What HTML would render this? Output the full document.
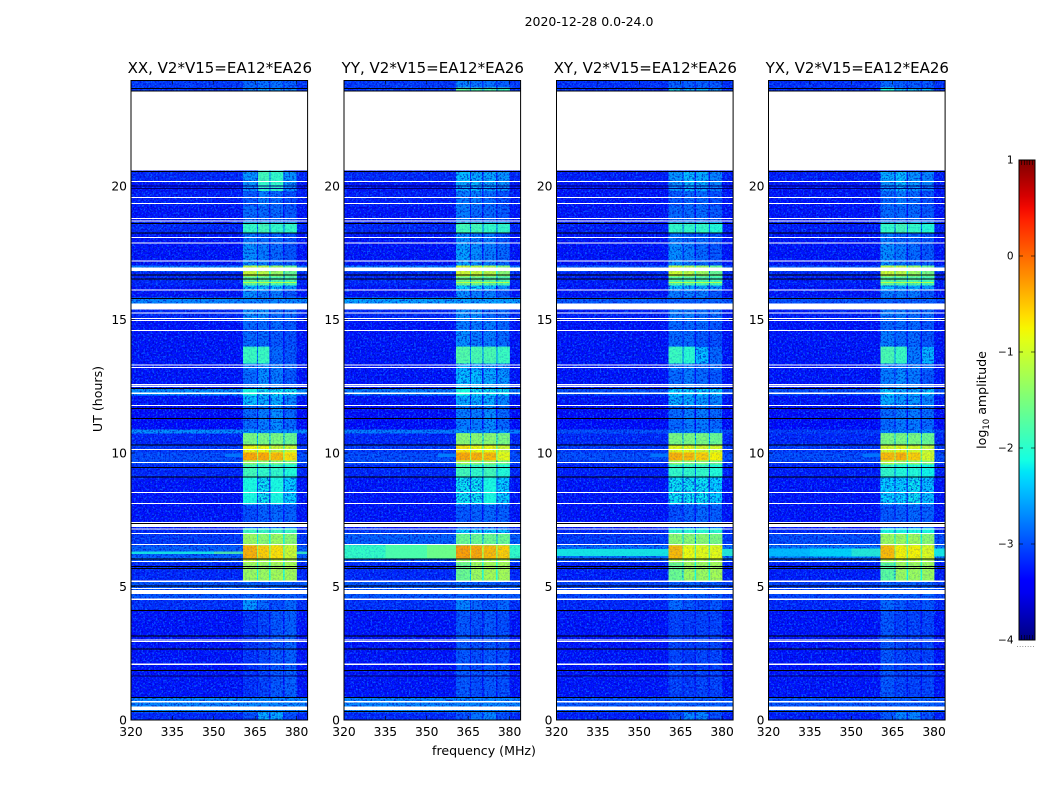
<!DOCTYPE html>
<html>
<head>
<meta charset="utf-8">
<title>2020-12-28 spectrogram</title>
<style>
html,body{margin:0;padding:0;background:#fff;}
svg{display:block;}
text{font-family:"DejaVu Sans","Liberation Sans",sans-serif;fill:#000;}
</style>
</head>
<body>
<svg id="fig" xmlns="http://www.w3.org/2000/svg" width="1050" height="800" viewBox="0 0 1050 800">
<defs>
<filter id="speckLight" x="0" y="0" width="100%" height="100%" color-interpolation-filters="sRGB">
<feTurbulence type="fractalNoise" baseFrequency="0.55" numOctaves="2" seed="4"/>
<feColorMatrix type="matrix" values="0 0 0 0 0.05  0 0 0 0 0.5  0 0 0 0 1  6 0 0 0 -3"/>
</filter>
<filter id="speckDark" x="0" y="0" width="100%" height="100%" color-interpolation-filters="sRGB">
<feTurbulence type="fractalNoise" baseFrequency="0.55" numOctaves="2" seed="11"/>
<feColorMatrix type="matrix" values="0 0 0 0 0  0 0 0 0 0  0 0 0 0 0.72  6 0 0 0 -3"/>
</filter>
<linearGradient id="jetGradient" x1="0" y1="1" x2="0" y2="0"></linearGradient>
</defs>
<text x="589" y="26" font-size="12.5" text-anchor="middle">2020-12-28 0.0-24.0</text>
<text x="484" y="755" font-size="12.6" text-anchor="middle">frequency (MHz)</text>
<text transform="translate(102,399) rotate(-90)" font-size="12.6" text-anchor="middle">UT (hours)</text>
<text transform="translate(986,400) rotate(-90)" font-size="12.6" text-anchor="middle">log<tspan font-size="8.5" dy="3">10</tspan><tspan dy="-3"> amplitude</tspan></text>
<g id="panels"></g>
<g id="cbar"></g>
</svg>
<script>
// Time-band edges (UT hours) shared by every panel
const bandEdges = [0,0.30,0.86,4.12,4.57,5.24,5.91,6.06,6.55,7.00,7.19,8.08,9.13,9.58,9.73,10.03,10.29,10.74,10.89,11.79,12.16,12.43,13.10,13.36,13.99,14.60,14.97,15.38,15.83,16.09,16.28,16.62,16.80,17.03,17.85,18.26,18.64,19.27,19.83,20.17,20.58,23.58,23.68,24];
// Frequency edges (MHz): background, window 1, gap, window 2, gap, window 3, gap, window 4, background
const freqEdges = [320,360.5,365.6,366.1,370.1,370.6,375.1,375.7,380,384];
// log10 amplitude per band: [background, window1, window2, window3, window4]
const valuesXX = [
[-3.2,-3.0,-2.5,-2.5,-3.0],[-2.7,-2.7,-2.7,-2.7,-2.7],[-3.3,-3.15,-3.05,-2.95,-2.9],[-3.15,-2.6,-2.85,-3.0,-2.85],[-2.95,-2.85,-2.9,-2.9,-2.9],
[-3.2,-1.3,-1.3,-1.25,-1.25],[-3.0,-1.0,-1.2,-1.1,-1.2],[-2.9,-0.4,-0.55,-0.65,-1.0],[-3.1,-1.3,-1.4,-1.3,-1.4],[-3.2,-1.9,-1.9,-1.9,-1.9],
[-3.3,-3.0,-2.9,-2.85,-2.9],[-3.3,-2.1,-2.2,-2.1,-2.3],[-3.2,-1.85,-1.95,-1.95,-2.05],[-3.0,-1.3,-1.4,-1.4,-1.5],[-3.0,-0.35,-0.35,-0.45,-0.65],
[-3.1,-0.8,-0.8,-1.0,-1.0],[-3.2,-1.5,-1.5,-1.5,-1.6],[-2.65,-2.6,-2.6,-2.6,-2.6],[-3.35,-2.85,-2.75,-2.65,-2.85],[-3.3,-2.4,-2.5,-2.5,-2.7],
[-2.65,-2.1,-2.2,-2.2,-2.2],[-3.3,-2.85,-2.65,-2.75,-2.95],[-3.3,-2.75,-2.65,-2.75,-2.85],[-3.3,-1.9,-1.9,-2.85,-2.95],[-3.3,-2.85,-2.85,-2.95,-3.0],
[-3.3,-2.85,-2.85,-2.85,-2.95],[-3.2,-2.65,-2.65,-2.85,-2.85],[-2.7,-2.7,-2.7,-2.7,-2.7],[-3.3,-2.65,-2.75,-2.75,-2.95],[-3.3,-2.4,-2.4,-2.4,-2.6],
[-3.2,-1.7,-1.7,-1.8,-1.8],[-3.2,-1.0,-1.1,-1.3,-1.6],[-2.75,-1.1,-1.1,-1.3,-1.6],[-3.3,-2.65,-2.75,-2.85,-2.95],[-3.3,-2.75,-2.85,-2.85,-2.95],
[-3.2,-1.95,-1.85,-1.95,-1.95],[-3.3,-2.85,-2.85,-2.85,-2.95],[-3.25,-2.95,-2.75,-2.85,-3.0],[-3.3,-2.6,-1.95,-1.95,-2.6],[-3.2,-2.6,-1.85,-1.95,-2.6],
[-3.3,-3.3,-3.3,-3.3,-3.3],[-3.1,-2.7,-2.6,-2.6,-2.7],[-3.1,-2.85,-2.8,-2.8,-2.9]];
const valuesYY = [
[-3.2,-3.0,-2.8,-2.7,-3.0],[-2.7,-2.7,-2.7,-2.7,-2.7],[-3.3,-2.95,-3.0,-2.95,-3.0],[-3.15,-2.7,-2.85,-2.95,-2.85],[-2.95,-2.85,-2.9,-2.9,-2.9],
[-3.2,-1.6,-1.3,-1.25,-1.25],[-2.9,-1.3,-1.2,-1.2,-1.2],[-1.95,-0.3,-0.35,-0.45,-0.55],[-2.9,-1.6,-1.6,-1.6,-1.6],[-3.1,-2.3,-2.3,-2.3,-2.4],
[-3.3,-2.95,-2.9,-2.85,-2.9],[-3.3,-2.2,-2.2,-2.1,-2.3],[-3.2,-1.85,-1.95,-1.85,-2.05],[-3.0,-1.2,-1.3,-1.3,-1.5],[-3.0,-0.35,-0.4,-0.45,-0.85],
[-3.1,-0.7,-0.8,-0.8,-1.0],[-3.2,-1.4,-1.4,-1.4,-1.5],[-2.75,-2.6,-2.6,-2.6,-2.6],[-3.35,-2.75,-2.75,-2.65,-2.85],[-3.3,-2.5,-2.5,-2.5,-2.7],
[-2.75,-2.1,-2.2,-2.2,-2.2],[-3.3,-2.4,-2.4,-2.5,-2.6],[-3.3,-2.5,-2.6,-2.6,-2.7],[-3.3,-1.75,-1.8,-1.8,-1.9],[-3.3,-2.65,-2.75,-2.75,-2.85],
[-3.3,-2.75,-2.75,-2.75,-2.85],[-3.2,-2.65,-2.65,-2.85,-2.85],[-2.55,-2.55,-2.55,-2.55,-2.55],[-3.3,-2.65,-2.75,-2.75,-2.95],[-3.3,-2.3,-2.3,-2.4,-2.6],
[-3.2,-1.6,-1.6,-1.7,-1.8],[-3.2,-0.95,-1.0,-1.1,-1.4],[-2.75,-1.0,-1.1,-1.2,-1.4],[-3.3,-2.55,-2.65,-2.75,-2.85],[-3.3,-2.65,-2.75,-2.75,-2.95],
[-3.2,-1.85,-1.85,-1.95,-1.95],[-3.3,-2.75,-2.85,-2.85,-2.95],[-3.25,-2.75,-2.75,-2.85,-3.0],[-3.3,-2.5,-2.4,-2.5,-2.6],[-3.2,-2.4,-2.5,-2.5,-2.6],
[-3.3,-3.3,-3.3,-3.3,-3.3],[-3.1,-1.7,-1.8,-1.8,-1.9],[-3.1,-2.7,-2.8,-2.8,-2.9]];
const valuesXY = [
[-3.25,-3.0,-2.7,-2.7,-3.0],[-2.95,-2.9,-2.9,-2.9,-2.9],[-3.3,-3.05,-3.1,-3.05,-3.05],[-3.2,-2.85,-2.95,-3.05,-2.95],[-3.05,-2.9,-2.9,-2.9,-2.9],
[-3.25,-1.6,-1.3,-1.3,-1.25],[-3.0,-1.1,-1.2,-1.2,-1.2],[-2.8,-0.45,-0.8,-0.85,-0.85],[-3.1,-1.4,-1.4,-1.4,-1.5],[-3.2,-2.0,-2.0,-2.0,-2.0],
[-3.3,-3.0,-2.9,-2.85,-2.9],[-3.3,-2.2,-2.2,-2.2,-2.3],[-3.25,-1.95,-1.95,-1.95,-2.05],[-3.1,-1.3,-1.4,-1.4,-1.5],[-3.0,-0.4,-0.45,-0.55,-0.75],
[-3.1,-0.85,-0.85,-0.95,-0.95],[-3.2,-1.5,-1.5,-1.5,-1.6],[-3.0,-2.7,-2.7,-2.7,-2.7],[-3.35,-2.85,-2.75,-2.75,-2.85],[-3.3,-2.5,-2.5,-2.6,-2.7],
[-3.0,-2.3,-2.3,-2.3,-2.3],[-3.3,-2.85,-2.75,-2.85,-2.95],[-3.3,-2.75,-2.75,-2.85,-2.85],[-3.3,-1.9,-2.0,-2.4,-2.85],[-3.3,-2.85,-2.85,-2.95,-3.0],
[-3.3,-2.85,-2.85,-2.85,-2.95],[-3.25,-2.75,-2.75,-2.85,-2.85],[-2.95,-2.9,-2.9,-2.9,-2.9],[-3.3,-2.75,-2.75,-2.75,-2.95],[-3.3,-2.4,-2.5,-2.5,-2.6],
[-3.25,-1.75,-1.75,-1.8,-1.85],[-3.2,-1.0,-1.1,-1.3,-1.6],[-2.95,-1.1,-1.2,-1.3,-1.6],[-3.3,-2.65,-2.75,-2.85,-2.95],[-3.3,-2.75,-2.85,-2.85,-2.95],
[-3.25,-1.95,-1.95,-1.95,-2.05],[-3.3,-2.85,-2.85,-2.85,-2.95],[-3.3,-2.95,-2.85,-2.85,-3.0],[-3.3,-2.6,-2.4,-2.5,-2.7],[-3.25,-2.6,-2.4,-2.5,-2.7],
[-3.3,-3.3,-3.3,-3.3,-3.3],[-3.15,-2.2,-2.5,-2.5,-2.6],[-3.15,-2.9,-2.9,-2.9,-2.95]];
const valuesYX = [
[-3.25,-2.95,-2.7,-2.7,-3.0],[-2.95,-2.9,-2.9,-2.9,-2.9],[-3.3,-2.95,-3.05,-3.05,-3.05],[-3.2,-2.85,-2.95,-3.05,-2.95],[-3.05,-2.9,-2.9,-2.9,-2.9],
[-3.25,-1.7,-1.3,-1.3,-1.3],[-3.0,-1.1,-1.1,-1.1,-1.2],[-2.75,-0.45,-0.75,-0.75,-0.9],[-3.0,-1.3,-1.3,-1.3,-1.4],[-3.2,-2.1,-2.1,-2.1,-2.1],
[-3.3,-2.95,-2.9,-2.85,-2.9],[-3.3,-2.3,-2.3,-2.2,-2.4],[-3.25,-1.95,-2.05,-2.05,-2.15],[-3.1,-1.1,-1.3,-1.3,-1.4],[-3.0,-0.45,-0.4,-0.55,-0.95],
[-3.1,-0.95,-0.85,-0.95,-1.05],[-3.2,-1.5,-1.5,-1.5,-1.6],[-3.1,-2.7,-2.7,-2.7,-2.7],[-3.35,-2.85,-2.75,-2.75,-2.85],[-3.3,-2.5,-2.6,-2.6,-2.7],
[-3.0,-2.3,-2.5,-2.5,-2.4],[-3.3,-2.75,-2.65,-2.75,-2.95],[-3.3,-2.75,-2.75,-2.75,-2.85],[-3.3,-1.8,-1.9,-2.75,-2.45],[-3.3,-2.75,-2.85,-2.85,-2.95],
[-3.3,-2.85,-2.85,-2.85,-2.95],[-3.25,-2.75,-2.75,-2.85,-2.85],[-3.0,-2.9,-2.9,-2.9,-2.9],[-3.3,-2.75,-2.75,-2.75,-2.95],[-3.3,-2.4,-2.5,-2.5,-2.6],
[-3.25,-1.7,-1.75,-1.75,-1.85],[-3.2,-1.0,-1.1,-1.3,-1.5],[-2.95,-1.1,-1.1,-1.3,-1.6],[-3.3,-2.65,-2.75,-2.85,-2.95],[-3.3,-2.75,-2.85,-2.85,-2.95],
[-3.25,-1.95,-1.85,-1.95,-2.05],[-3.3,-2.85,-2.85,-2.85,-2.95],[-3.3,-2.85,-2.75,-2.85,-3.0],[-3.3,-2.6,-2.4,-2.6,-2.7],[-3.25,-2.5,-2.4,-2.6,-2.7],
[-3.3,-3.3,-3.3,-3.3,-3.3],[-3.15,-2.1,-2.4,-2.4,-2.5],[-3.15,-2.85,-2.9,-2.9,-2.95]];
// Localised RFI features: [startHour, endHour, startMHz, endMHz, log10 amplitude]
const featuresXX = [[6.22,6.32,320,350,-2.1],[6.22,6.32,350,360.5,-1.7],[6.22,6.32,380,384,-1.9],[9.85,9.98,354,360.5,-2.75],[16.36,16.41,360.5,380,-1.0]];
const featuresYY = [[6.06,6.55,335,350,-1.75],[6.06,6.55,350,360.5,-1.5],[9.85,9.98,354,360.5,-2.7],[16.36,16.41,360.5,380,-1.0]];
const featuresXY = [[6.15,6.40,320,360.5,-2.1],[6.15,6.40,380,384,-2.0],[9.85,9.98,354,360.5,-2.75],[16.36,16.41,360.5,380,-1.0]];
const featuresYX = [[6.12,6.42,320,335,-2.4],[6.12,6.42,335,350,-2.25],[6.12,6.42,350,360.5,-2.0],[6.12,6.42,380,384,-2.1],[9.85,9.98,354,360.5,-2.75],[16.36,16.41,360.5,380,-1.0]];
// Flagged (blank) time ranges in UT hours
const flagRanges = [[0.37,0.50],[0.66,0.71],[2.06,2.11],[2.93,2.95],[2.99,3.01],[4.50,4.55],[4.72,4.87],[4.92,4.95],[5.16,5.23],[5.92,5.96],[6.56,6.60],[6.97,7.01],[7.14,7.18],[7.22,7.41],[8.09,8.13],[8.50,8.54],[9.63,9.66],[10.11,10.15],[11.76,11.80],[12.20,12.26],[12.48,12.52],[12.55,12.58],[13.18,13.22],[13.28,13.31],[14.57,14.60],[14.95,14.99],[15.02,15.05],[15.24,15.27],[15.38,15.59],[16.10,16.13],[16.81,16.94],[17.17,17.20],[17.85,17.88],[18.05,18.08],[18.67,18.70],[18.76,18.80],[19.33,19.37],[19.55,19.59],[20.15,20.18],[20.58,23.55]];
// Zero-amplitude (black) integrations in UT hours
const darkHours = [0.34,0.87,1.88,2.68,3.17,4.12,5.03,5.69,5.76,6.05,7.38,9.12,9.48,10.32,11.31,11.69,12.43,15.80,16.53,16.69,18.26,18.62,20.56,23.58,23.66];
// Faint (navy) integrations in UT hours
const faintHours = [1.67,19.93,20.02];
const panelTitles = ["XX, V2*V15=EA12*EA26","YY, V2*V15=EA12*EA26","XY, V2*V15=EA12*EA26","YX, V2*V15=EA12*EA26"];
const xTickLabels = [320,335,350,365,380];
const yTickLabels = [0,5,10,15,20];
const cbarTickLabels = [-4,-3,-2,-1,0,1];
const cbarMinorTicks = [0,1,2,3,4,5,6];

const panelLefts = [131,344,556.5,768.5];
const panelW = 176.6, panelTop = 80.5, panelBottom = 720;
const freqMin = 320, freqMax = 384, hourMin = 0, hourMax = 23.95;
const vMin = -4, vMax = 1;
const smoothAbove = -2.2;
const NS = "http://www.w3.org/2000/svg";
const allValues = [valuesXX, valuesYY, valuesXY, valuesYX];
const allFeatures = [featuresXX, featuresYY, featuresXY, featuresYX];
const panelKeys = ["xx","yy","xy","yx"];

function xScale(left, f){ return left + (f - freqMin) / (freqMax - freqMin) * panelW; }
function yScale(h){ return panelBottom - (h - hourMin) / (hourMax - hourMin) * (panelBottom - panelTop); }
function interp(pts, t){
  for (let i = 1; i < pts.length; i++) {
    if (t <= pts[i][0]) {
      const a = pts[i-1], b = pts[i];
      return a[1] + (b[1]-a[1]) * (t-a[0]) / (b[0]-a[0]);
    }
  }
  return pts[pts.length-1][1];
}
function jet(v){
  const t = Math.max(0, Math.min(1, (v - vMin) / (vMax - vMin)));
  const r = interp([[0,0],[.35,0],[.66,1],[.89,1],[1,.5]], t);
  const g = interp([[0,0],[.125,0],[.375,1],[.64,1],[.91,0],[1,0]], t);
  const b = interp([[0,.5],[.11,1],[.34,1],[.65,0],[1,0]], t);
  return "rgb(" + Math.round(r*255) + "," + Math.round(g*255) + "," + Math.round(b*255) + ")";
}
function make(tag, attrs, parent){
  const el = document.createElementNS(NS, tag);
  for (const k in attrs) el.setAttribute(k, attrs[k]);
  parent.appendChild(el);
  return el;
}
function cellValue(row, col){
  // columns: 0 bg, 1 w1, 2 gap, 3 w2, 4 gap, 5 w3, 6 gap, 7 w4, 8 bg
  if (col === 0 || col === 8) return row[0];
  if (col === 1) return row[1];
  if (col === 3) return row[2];
  if (col === 5) return row[3];
  if (col === 7) return row[4];
  const left = row[col / 2], right = row[col / 2 + 1];
  return Math.max(row[0], (left + right) / 2 - 0.8);
}

const panelsG = document.getElementById("panels");
panelLefts.forEach(function(left, p){
  const g = make("g", {}, panelsG);
  
  

  const clipId = "clip" + p;
  const clip = make("clipPath", {id: clipId}, g);
  make("rect", {x: left, y: panelTop, width: panelW, height: panelBottom - panelTop}, clip);

  const heat = make("g", {"clip-path": "url(#" + clipId + ")", "shape-rendering": "crispEdges"}, g);
  
  

  const values = allValues[p];
  const smoothCells = [];
  for (let r = 0; r < values.length; r++) {
    const yTop = yScale(bandEdges[r+1]);
    const yBot = yScale(bandEdges[r]);
    for (let c = 0; c < freqEdges.length - 1; c++) {
      const x0 = xScale(left, freqEdges[c]), x1 = xScale(left, freqEdges[c+1]);
      const v = cellValue(values[r], c);
      const cell = make("rect", {x: x0.toFixed(2), y: yTop.toFixed(2), width: (x1-x0+0.3).toFixed(2), height: (yBot-yTop+0.3).toFixed(2), fill: jet(v)}, heat);
      
      
      if (v > smoothAbove) smoothCells.push(cell);
    }
  }
  const speckA = make("rect", {x: left, y: panelTop, width: panelW, height: panelBottom-panelTop, filter: "url(#speckLight)", opacity: 0.6}, heat);
  
  
  const speckB = make("rect", {x: left, y: panelTop, width: panelW, height: panelBottom-panelTop, filter: "url(#speckDark)", opacity: 0.6}, heat);
  
  
  smoothCells.forEach(function(cell){
    const top = cell.cloneNode(false);
    top.setAttribute('fill-opacity', '0.75');
    heat.appendChild(top);
  });
  allFeatures[p].forEach(function(ft){
    const y0 = yScale(ft[1]), y1 = yScale(ft[0]);
    const x0 = xScale(left, ft[2]), x1 = xScale(left, ft[3]);
    const feat = make("rect", {x: x0.toFixed(2), y: y0.toFixed(2), width: (x1-x0).toFixed(2), height: (y1-y0).toFixed(2), fill: jet(ft[4]), "fill-opacity": 0.8}, heat);
    
    
  });

  flagRanges.forEach(function(fr){
    const y0 = yScale(fr[1]), y1 = yScale(fr[0]);
    const f = make("rect", {x: left, y: y0.toFixed(2), width: panelW, height: Math.max(1, y1-y0).toFixed(2), fill: "#fff"}, heat);
    
    
  });
  darkHours.forEach(function(h){
    const d = make("rect", {x: left, y: yScale(h).toFixed(2), width: panelW, height: 1, fill: "#000"}, heat);
    
    
  });
  faintHours.forEach(function(h){
    const d = make("rect", {x: left, y: yScale(h).toFixed(2), width: panelW, height: 1, fill: "#00006a"}, heat);
    
    
  });

  const frame = make("rect", {x: left, y: panelTop, width: panelW, height: panelBottom-panelTop, fill: "none", stroke: "#000", "stroke-width": 1}, g);
  
  

  xTickLabels.forEach(function(f){
    const x = xScale(left, f);
    const t1 = make("line", {x1: x, x2: x, y1: panelBottom, y2: panelBottom-4, stroke: "#000", "stroke-width": 0.6}, g);
    
    
    const t2 = make("line", {x1: x, x2: x, y1: panelTop, y2: panelTop+4, stroke: "#000", "stroke-width": 0.6}, g);
    
    
    const lab = make("text", {x: x, y: 736, "font-size": 12.3, "text-anchor": "middle"}, g);
    
    
    lab.textContent = f;
  });
  yTickLabels.forEach(function(h){
    const y = yScale(h);
    const t1 = make("line", {x1: left, x2: left+4, y1: y, y2: y, stroke: "#000", "stroke-width": 0.6}, g);
    
    
    const t2 = make("line", {x1: left+panelW, x2: left+panelW-4, y1: y, y2: y, stroke: "#000", "stroke-width": 0.6}, g);
    
    
    const lab = make("text", {x: left-4, y: y+4.5, "font-size": 12.3, "text-anchor": "end"}, g);
    
    
    lab.textContent = h;
  });
  const title = make("text", {x: left + panelW/2 + 0.5, y: 73, "font-size": 15, "text-anchor": "middle"}, g);
  
  
  title.textContent = panelTitles[p];
});

// Colorbar
const cb = document.getElementById("cbar");
const cbX = 1019, cbW = 16, cbTop = 160, cbBottom = 640;
function cbScale(v){ return cbBottom - (v - vMin) / (vMax - vMin) * (cbBottom - cbTop); }
const grad = document.getElementById("jetGradient");
for (let i = 0; i <= 40; i++) {
  make("stop", {offset: (i/40*100) + "%", "stop-color": jet(vMin + i/40*(vMax-vMin))}, grad);
}
const cbRect = make("rect", {x: cbX, y: cbTop, width: cbW, height: cbBottom-cbTop, fill: "url(#jetGradient)", stroke: "#000", "stroke-width": 1}, cb);


cbarTickLabels.forEach(function(v){
  const y = cbScale(v);
  const t1 = make("line", {x1: cbX, x2: cbX+4, y1: y, y2: y, stroke: "#000", "stroke-width": 0.6}, cb);
  
  
  const t2 = make("line", {x1: cbX+cbW, x2: cbX+cbW-4, y1: y, y2: y, stroke: "#000", "stroke-width": 0.6}, cb);
  
  
  const lab = make("text", {x: cbX-5.5, y: y+3.5, "font-size": 10.5, "text-anchor": "end"}, cb);
  
  
  lab.textContent = (v < 0 ? "\u2212" + Math.abs(v) : String(v));
});
cbarMinorTicks.forEach(function(i){
  const x = cbX + i / (cbarMinorTicks.length - 1) * cbW;
  const t1 = make("line", {x1: x, x2: x, y1: cbTop, y2: cbTop+5, stroke: "#000", "stroke-width": 0.6}, cb);
  
  
  const t2 = make("line", {x1: x, x2: x, y1: cbBottom, y2: cbBottom-5, stroke: "#000", "stroke-width": 0.6}, cb);
  
  
  const dot = make("circle", {cx: x - 1.5, cy: 646.5, r: 0.5, fill: "#777"}, cb);
  
  
});
</script>
</body>
</html>
